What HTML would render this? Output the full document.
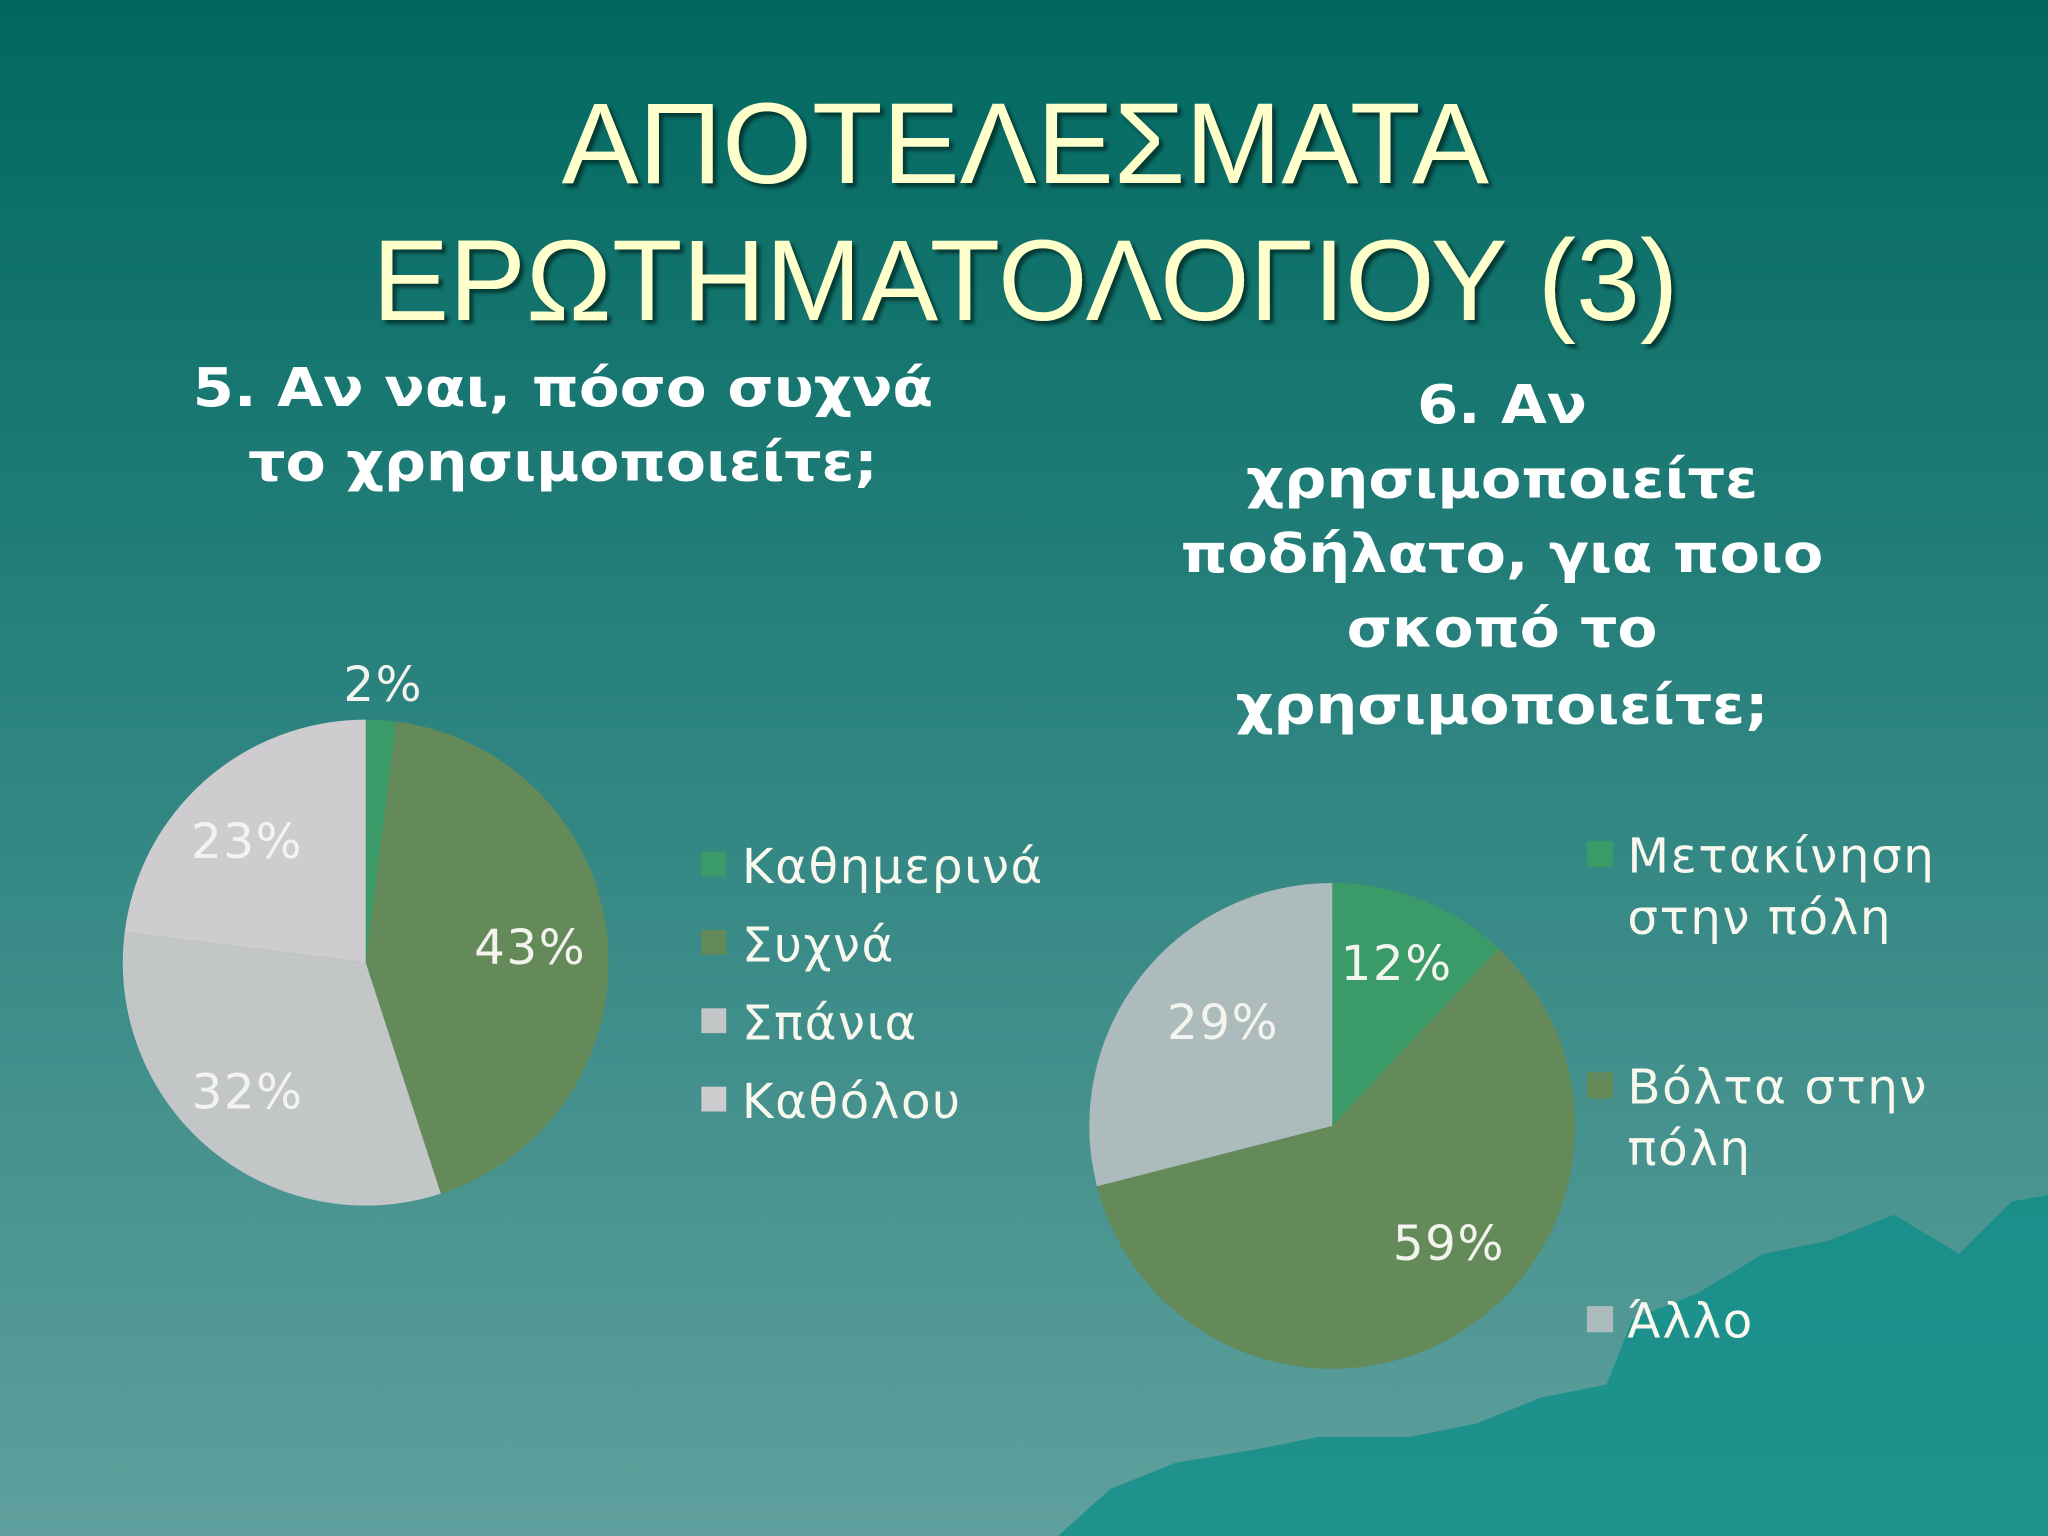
<!DOCTYPE html>
<html><head><meta charset="utf-8">
<style>
html,body{margin:0;padding:0;width:2048px;height:1536px;overflow:hidden;}
svg{display:block;}
.t{font-family:"Liberation Sans","Noto Sans CJK SC",sans-serif;fill:#ffffcc;font-size:88px;}
.st{font-family:"DejaVu Sans",sans-serif;font-weight:bold;fill:#ffffff;font-size:41px;}
.lb{font-family:"DejaVu Sans",sans-serif;font-size:37px;letter-spacing:1.2px;}
</style></head>
<body>
<svg id="s" width="2048" height="1536" viewBox="0 0 1568 1176" xmlns="http://www.w3.org/2000/svg">
<defs>
<linearGradient id="bg" x1="0" y1="0" x2="0" y2="1">
<stop offset="0" stop-color="#006860"/><stop offset="0.5" stop-color="#2f8581"/><stop offset="1" stop-color="#5fa09d"/>
</linearGradient>
<filter id="sh"><feDropShadow dx="3" dy="3" stdDeviation="1.5" flood-color="#002a28" flood-opacity="0.8"/></filter>
</defs>
<rect width="1568" height="1176" fill="url(#bg)"/>
<path d="M810 1176 L850 1140 L900 1120 L960 1110 L1010 1100 L1080 1100 L1130 1090 L1180 1070 L1230 1060 L1250 1010 L1300 990 L1350 960 L1400 950 L1450 930 L1500 960 L1540 920 L1568 915 L1568 1176 Z" fill="#0b8d88" opacity="0.75"/>
<g filter="url(#sh)">
<text class="t" x="785" y="140" text-anchor="middle" textLength="710" lengthAdjust="spacingAndGlyphs">ΑΠΟΤΕΛΕΣΜΑΤΑ</text>
<text class="t" x="785" y="245" text-anchor="middle" textLength="1000" lengthAdjust="spacingAndGlyphs">ΕΡΩΤΗΜΑΤΟΛΟΓΙΟΥ (3)</text>
</g>
<g>
<text class="st" x="431" y="311" text-anchor="middle" textLength="567" lengthAdjust="spacingAndGlyphs">5. Αν ναι, πόσο συχνά</text>
<text class="st" x="431" y="368" text-anchor="middle" textLength="482" lengthAdjust="spacingAndGlyphs">το χρησιμοποιείτε;</text>
</g>
<g>
<text class="st" x="1150" y="324" text-anchor="middle" textLength="130" lengthAdjust="spacingAndGlyphs">6. Αν</text>
<text class="st" x="1150" y="381" text-anchor="middle" textLength="392" lengthAdjust="spacingAndGlyphs">χρησιμοποιείτε</text>
<text class="st" x="1150" y="438" text-anchor="middle" textLength="492" lengthAdjust="spacingAndGlyphs">ποδήλατο, για ποιο</text>
<text class="st" x="1150" y="495" text-anchor="middle" textLength="238" lengthAdjust="spacingAndGlyphs">σκοπό το</text>
<text class="st" x="1150" y="554" text-anchor="middle" textLength="408" lengthAdjust="spacingAndGlyphs">χρησιμοποιείτε;</text>
</g>
<g id="p1"></g><g id="p2"></g>
</svg>
<script>
const cats1=["Καθημερινά","Συχνά","Σπάνια","Καθόλου"];
const vals1=[2,43,32,23];
const labels1=["2%","43%","32%","23%"];
const colors1=["#3a9b68","#658a5a","#c3c6c6","#cfccd0"];
const cats2=[["Μετακίνηση","στην πόλη"],["Βόλτα στην","πόλη"],["Άλλο"]];
const vals2=[12,59,29];
const labels2=["12%","59%","29%"];
const colors2=["#3a9b68","#658a5a","#aebbbd"];
const NS="http://www.w3.org/2000/svg";
function mk(tag,at,parent){const e=document.createElementNS(NS,tag);for(const k in at)e.setAttribute(k,at[k]);parent.appendChild(e);return e;}
function pie(g,cx,cy,r,vals,colors,labels,labPos,angOff,prefix){
  const tot=vals.reduce((a,b)=>a+b,0);let a0=0;
  vals.forEach((v,i)=>{
    const a1=a0+v/tot*2*Math.PI;
    const x0=cx+r*Math.sin(a0),y0=cy-r*Math.cos(a0),x1=cx+r*Math.sin(a1),y1=cy-r*Math.cos(a1);
    const p=mk("path",{d:`M${cx} ${cy} L${x0} ${y0} A${r} ${r} 0 ${a1-a0>Math.PI?1:0} 1 ${x1} ${y1} Z`,fill:colors[i]},g);
    
    
    const am=(a0+a1)/2+angOff[i];const rr=r*labPos[i];
    const t=mk("text",{x:cx+rr*Math.sin(am),y:cy-rr*Math.cos(am)+13,"text-anchor":"middle",class:"lb",fill:"#f4f4ee"},g);
    t.textContent=labels[i];
    
    
    a0=a1;
  });
}
const g1=document.getElementById("p1"),g2=document.getElementById("p2");
pie(g1,280,737,186,vals1,colors1,labels1,[1.15,0.68,0.72,0.7],[0,0,0.05,-0.05],"chart1");
pie(g2,1020,862,186,vals2,colors2,labels2,[0.72,0.68,0.62],[0,-0.25,0.1],"chart2");
cats1.forEach((c,i)=>{
  const y=663+i*60;
  const r=mk("rect",{x:537,y:y-11,width:19,height:19,fill:colors1[i]},g1);
  
  
  const t=mk("text",{x:568,y:y+13,class:"lb",fill:"#f8f8ee"},g1);t.textContent=c;
  
  
});
const ly=[655,832,1011];
cats2.forEach((c,i)=>{
  const y=ly[i];
  const r=mk("rect",{x:1215,y:y-11,width:20,height:20,fill:colors2[i]},g2);
  
  
  c.forEach((line,j)=>{
    const t=mk("text",{x:1246,y:y+13+j*47,class:"lb",fill:"#f8f8ee"},g2);t.textContent=line;
    
    
  });
});
</script>
</body></html>
